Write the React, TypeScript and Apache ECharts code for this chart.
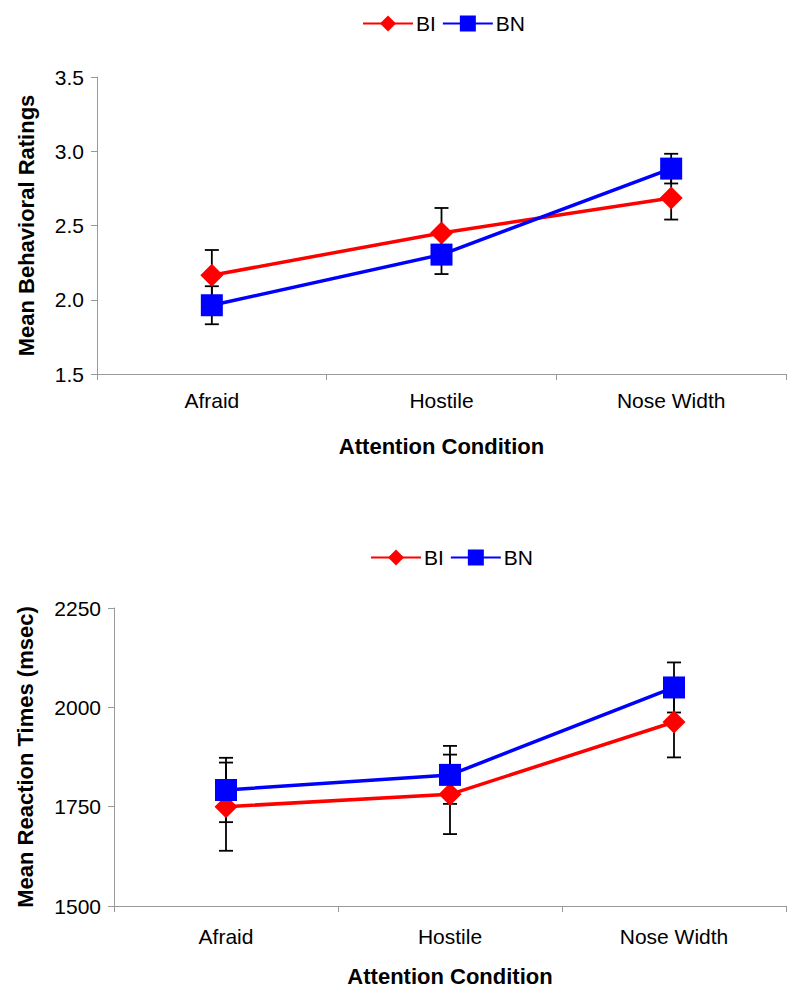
import React, { useEffect, useRef } from "react";
import * as echarts from "echarts";

const categories = ["Afraid", "Hostile", "Nose Width"];

const ratingBI = [2.165, 2.45, 2.685];
const ratingBIErr = [0.17, 0.168, 0.145];
const ratingBN = [1.963, 2.304, 2.883];
const ratingBNErr = [0.128, 0.131, 0.1];

const rtBI = [1750, 1781, 1963];
const rtBIErr = [111, 100, 89];
const rtBN = [1792, 1830, 2050];
const rtBNErr = [81, 73, 63];

const ratingTicks = { min: 1.5, max: 3.5, interval: 0.5 };
const rtTicks = { min: 1500, max: 2250, interval: 250 };

const FONT = "Liberation Sans, Arial, sans-serif";

function errData(vals: number[], errs: number[]) {
  return vals.map((v, i) => [i, v, errs[i]]);
}

function errSeries(vals: number[], errs: number[], axis: number) {
  return {
    type: "custom",
    xAxisIndex: axis,
    yAxisIndex: axis,
    z: 1,
    silent: true,
    data: errData(vals, errs),
    renderItem: (params: any, api: any) => {
      const x = api.value(0);
      const m = api.value(1);
      const e = api.value(2);
      const hi = api.coord([x, m + e]);
      const lo = api.coord([x, m - e]);
      const w = 7;
      const style = { stroke: "#000", lineWidth: 1.8 };
      return {
        type: "group",
        children: [
          { type: "line", shape: { x1: hi[0], y1: hi[1], x2: lo[0], y2: lo[1] }, style },
          { type: "line", shape: { x1: hi[0] - w, y1: hi[1], x2: hi[0] + w, y2: hi[1] }, style },
          { type: "line", shape: { x1: lo[0] - w, y1: lo[1], x2: lo[0] + w, y2: lo[1] }, style },
        ],
      };
    },
  };
}

function lineSeries(name: string, data: number[], axis: number, color: string, symbol: string, size: number) {
  return {
    name,
    type: "line",
    xAxisIndex: axis,
    yAxisIndex: axis,
    data,
    z: 3,
    symbol,
    symbolSize: size,
    showAllSymbol: true,
    lineStyle: { color, width: 3.5 },
    itemStyle: { color, borderWidth: 0 },
  };
}

function xAxis(grid: number, labelMargin: number, nameGap: number) {
  return {
    type: "category",
    gridIndex: grid,
    data: categories,
    boundaryGap: true,
    axisLine: { lineStyle: { color: "#999", width: 1 } },
    axisTick: { show: true, length: 6, lineStyle: { color: "#999" } },
    axisLabel: { color: "#000", fontSize: 21, fontFamily: FONT, margin: labelMargin },
    name: "Attention Condition",
    nameLocation: "middle",
    nameGap,
    nameTextStyle: { color: "#000", fontSize: 22, fontWeight: "bold", fontFamily: FONT },
    splitLine: { show: false },
  };
}

function yAxis(grid: number, t: { min: number; max: number; interval: number }, name: string, gap: number, fmt: (v: number) => string) {
  return {
    type: "value",
    gridIndex: grid,
    min: t.min,
    max: t.max,
    interval: t.interval,
    axisLine: { show: true, lineStyle: { color: "#999", width: 1 } },
    axisTick: { show: true, length: 6, lineStyle: { color: "#999" } },
    axisLabel: { color: "#000", fontSize: 21, fontFamily: FONT, margin: 13, formatter: fmt },
    splitLine: { show: false },
    name,
    nameLocation: "middle",
    nameGap: gap,
    nameTextStyle: { color: "#000", fontSize: 22, fontWeight: "bold", fontFamily: FONT },
  };
}

function legend(left: number, top: number) {
  return {
    left,
    top,
    data: ["BI", "BN"],
    itemWidth: 50,
    itemHeight: 20,
    itemGap: 6,
    textStyle: { color: "#000", fontSize: 21, fontFamily: FONT, padding: [0, 0, 0, -2] },
    selectedMode: false,
  };
}

export default function App() {
  const ref = useRef<HTMLDivElement>(null);
  useEffect(() => {
    if (!ref.current) return;
    const chart = echarts.init(ref.current, undefined, { renderer: "svg" });
    chart.setOption({
      animation: false,
      backgroundColor: "#fff",
      legend: [legend(357, 8), legend(365, 542)],
      grid: [
        { left: 97, right: 14, top: 77, height: 297 },
        { left: 114, right: 14, top: 608, height: 298 },
      ],
      xAxis: [xAxis(0, 16, 61), xAxis(1, 20, 59)],
      yAxis: [
        yAxis(0, ratingTicks, "Mean Behavioral Ratings", 60, (v: number) => v.toFixed(1)),
        yAxis(1, rtTicks, "Mean Reaction Times (msec)", 78, (v: number) => String(v)),
      ],
      series: [
        errSeries(ratingBI, ratingBIErr, 0),
        errSeries(ratingBN, ratingBNErr, 0),
        errSeries(rtBI, rtBIErr, 1),
        errSeries(rtBN, rtBNErr, 1),
        lineSeries("BI", ratingBI, 0, "#ff0000", "diamond", 23),
        lineSeries("BN", ratingBN, 0, "#0000ff", "rect", 22),
        lineSeries("BI", rtBI, 1, "#ff0000", "diamond", 23),
        lineSeries("BN", rtBN, 1, "#0000ff", "rect", 22),
      ],
    });
    return () => chart.dispose();
  }, []);
  return (
    <div
      ref={ref}
      style={{ position: "absolute", left: 0, top: 0, width: 800, height: 996 }}
    />
  );
}
